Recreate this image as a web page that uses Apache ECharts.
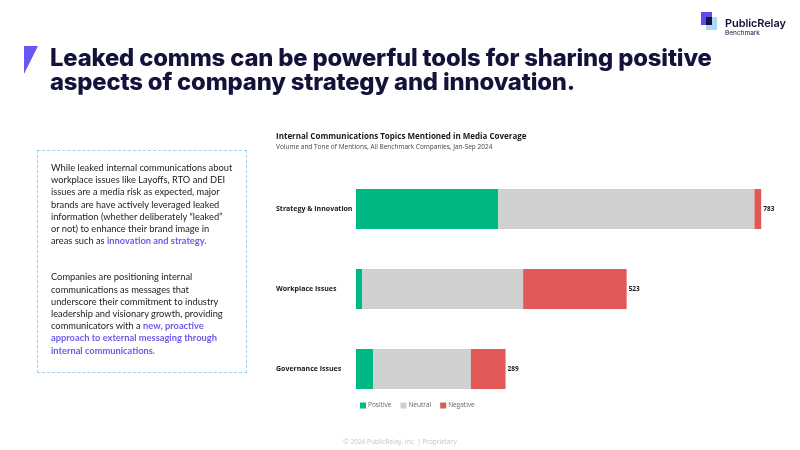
<!DOCTYPE html>
<html>
<head>
<meta charset="utf-8">
<script src="https://cdn.jsdelivr.net/npm/echarts@6/dist/echarts.min.js"></script>
<style>
  html, body { margin: 0; padding: 0; background: #fff; }
  #page { position: relative; width: 800px; height: 450px; overflow: hidden; }
  #chart { position: absolute; left: 0; top: 0; width: 800px; height: 450px; }
  .tri { position: absolute; left: 24px; top: 46px; width: 0; height: 0;
         border-left: 14px solid #6658f0; border-bottom: 28px solid transparent; }
  .headline { position: absolute; left: 50px; top: 46px; margin: 0;
              font-family: Inter, sans-serif; font-weight: 800; font-size: 23.8px;
              line-height: 24px; color: #12123a; letter-spacing: -0.15px; white-space: nowrap; }
  .logo { position: absolute; left: 701px; top: 12px; }
  .logo .sq1 { position: absolute; left: 0; top: 0; width: 11px; height: 13px; background: #5b4df0; }
  .logo .sq2 { position: absolute; left: 5px; top: 5px; width: 11px; height: 13px; background: #a9d8f5; }
  .logo .sq3 { position: absolute; left: 5px; top: 5px; width: 6px; height: 8px; background: #141440; }
  .logo .name { position: absolute; left: 24px; top: 4px; font-family: Inter, sans-serif;
                font-weight: 600; font-size: 11px; color: #12123a; white-space: nowrap; letter-spacing: -0.1px; }
  .logo .sub { position: absolute; left: 24px; top: 17px; font-family: Inter, sans-serif;
               font-size: 6.5px; color: #12123a; }
  .box { position: absolute; left: 37px; top: 150px; width: 210px; height: 223px;
         border: 1px dashed #9fd0ee; box-sizing: border-box; padding: 11px 0 0 13px;
         font-family: Lato, sans-serif; font-size: 9.3px; line-height: 12.2px; color: #222;
         white-space: nowrap; }
  .box p { margin: 0 0 24px 0; }
  .box b { color: #6a5ce8; font-weight: 700; }
  .foot { position: absolute; left: 0; width: 800px; top: 437px; text-align: center;
          font-family: "Open Sans", sans-serif; font-size: 6.5px; color: #c4c4c4; }
</style>
</head>
<body>
<div id="page">
  <div id="chart"></div>
  <div class="tri"></div>
  <h1 class="headline">Leaked comms can be powerful tools for sharing positive<br>aspects of company strategy and innovation.</h1>
  <div class="logo">
    <div class="sq1"></div><div class="sq2"></div><div class="sq3"></div>
    <div class="name">PublicRelay</div>
    <div class="sub">Benchmark</div>
  </div>
  <div class="box">
    <p>While leaked internal communications about<br>workplace issues like Layoffs, RTO and DEI<br>issues are a media risk as expected, major<br>brands are have actively leveraged leaked<br>information (whether deliberately “leaked”<br>or not) to enhance their brand image in<br>areas such as <b>innovation and strategy.</b></p>
    <p>Companies are positioning internal<br>communications as messages that<br>underscore their commitment to industry<br>leadership and visionary growth, providing<br>communicators with a <b>new, proactive<br>approach to external messaging through<br>internal communications.</b></p>
  </div>
  <div class="foot">© 2024 PublicRelay, Inc. | Proprietary</div>
</div>
<script>
  // 数据
  var categories = ['Strategy & Innovation', 'Workplace Issues', 'Governance Issues'];
  var positive = [275, 12, 33];
  var neutral = [495, 311, 189];
  var negative = [13, 200, 67];
  var totals = [783, 523, 289];

  var colors = ['#00b884', '#d0d0d0', '#e05858'];

  var myChart = echarts.init(document.getElementById('chart'));
  var option = {
    animation: false,
    title: {
      text: 'Internal Communications Topics Mentioned in Media Coverage',
      subtext: 'Volume and Tone of Mentions, All Benchmark Companies, Jan-Sep 2024',
      left: 276,
      top: 133,
      padding: 0,
      itemGap: 3,
      textStyle: { fontFamily: 'Open Sans', fontSize: 8, fontWeight: 'bold', color: '#1a1a1a' },
      subtextStyle: { fontFamily: 'Open Sans', fontSize: 6.5, color: '#444' }
    },
    legend: {
      left: 360,
      top: 402,
      padding: 0,
      itemWidth: 6,
      itemHeight: 6,
      itemGap: 9,
      icon: 'rect',
      textStyle: { fontFamily: 'Open Sans', fontSize: 6.5, color: '#666', padding: [0, 0, 0, -3] },
      data: ['Positive', 'Neutral', 'Negative']
    },
    grid: { left: 356, top: 169, width: 414, height: 240 },
    xAxis: {
      type: 'value',
      min: 0,
      max: 800,
      show: false
    },
    yAxis: {
      type: 'category',
      inverse: true,
      data: categories,
      axisLine: { show: false },
      axisTick: { show: false },
      axisLabel: {
        align: 'left',
        margin: 80,
        fontFamily: 'Open Sans',
        fontSize: 7,
        fontWeight: 'bold',
        color: '#1a1a1a'
      }
    },
    series: [
      { name: 'Positive', type: 'bar', stack: 'tone', barWidth: 40, data: positive, itemStyle: { color: colors[0] } },
      { name: 'Neutral', type: 'bar', stack: 'tone', barWidth: 40, data: neutral, itemStyle: { color: colors[1] } },
      {
        name: 'Negative', type: 'bar', stack: 'tone', barWidth: 40, data: negative,
        itemStyle: { color: colors[2] },
        label: {
          show: true,
          position: 'right',
          distance: 2,
          fontFamily: 'Open Sans',
          fontSize: 6.5,
          fontWeight: 'bold',
          color: '#1a1a1a',
          formatter: function (p) { return totals[p.dataIndex]; }
        }
      }
    ]
  };
  myChart.setOption(option);
</script>
</body>
</html>
